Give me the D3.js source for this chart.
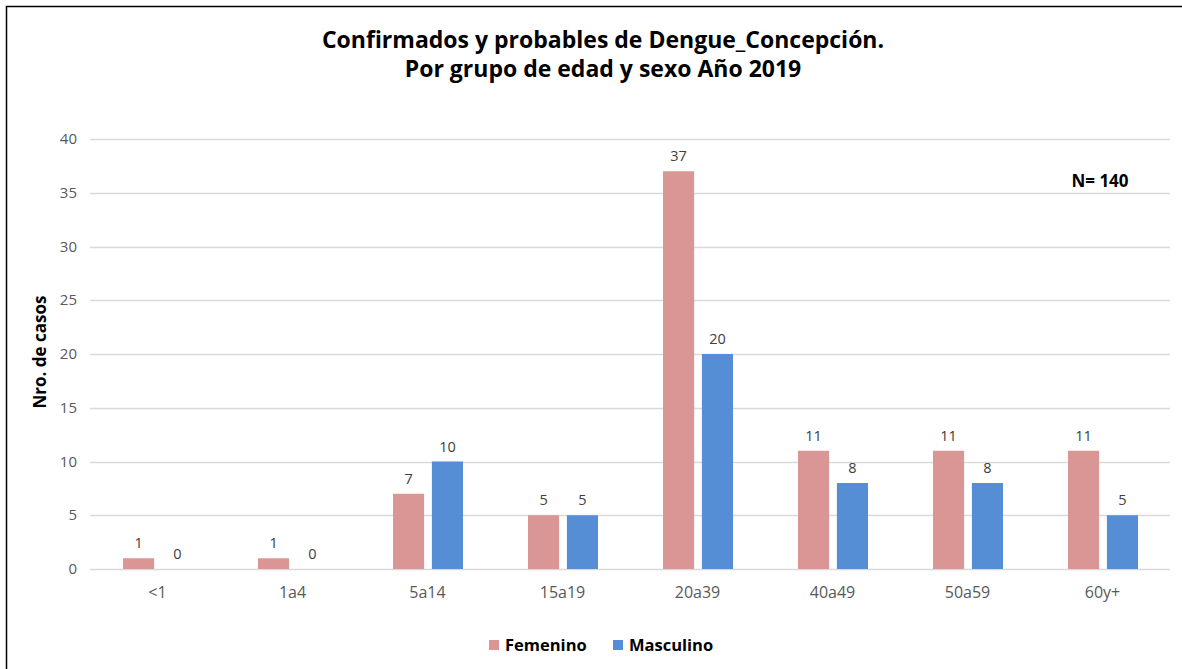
<!DOCTYPE html>
<html>
<head>
<meta charset="utf-8">
<script src="https://cdn.jsdelivr.net/npm/d3@7"></script>
<style>
  body { margin: 0; background: #fff; overflow: hidden; }
  svg { display: block; font-family: "Open Sans", "Noto Sans", sans-serif; }
</style>
</head>
<body>
<svg width="1182" height="669"></svg>
<script>
"use strict";
// data
const grupos = ["<1", "1a4", "5a14", "15a19", "20a39", "40a49", "50a59", "60y+"];
const femenino = [1, 1, 7, 5, 37, 11, 11, 11];
const masculino = [0, 0, 10, 5, 20, 8, 8, 5];
const series = ["Femenino", "Masculino"];
const yTicks = [0, 5, 10, 15, 20, 25, 30, 35, 40];

const colores = { Femenino: "#d99694", Masculino: "#558ed5" };

(function() {
  const svg = d3.select("svg");
  const width = +svg.attr("width");

  // frame (right and bottom sides fall outside the picture)
  svg.append("rect")
    .attr("x", 6.5).attr("y", 6.5)
    .attr("width", width + 20).attr("height", 700)
    .attr("fill", "none").attr("stroke", "#000").attr("stroke-width", 1.5);

  const plotLeft = 90, plotRight = 1170, plotTop = 139, plotBottom = 569;

  const x = d3.scaleBand().domain(grupos).range([plotLeft, plotRight]);
  const xs = d3.scaleBand().domain(series).range([0, 70]).paddingInner(0.2);
  const y = d3.scaleLinear().domain([0, 40]).range([plotBottom, plotTop]);

  // gridlines
  svg.append("g").selectAll("line")
    .data(yTicks).enter().append("line")
    .attr("x1", plotLeft).attr("x2", plotRight)
    .attr("y1", d => Math.round(y(d)) + 0.5).attr("y2", d => Math.round(y(d)) + 0.5)
    .attr("stroke", "#d9d9d9").attr("stroke-width", 1.5);

  // y tick labels
  svg.append("g").selectAll("text")
    .data(yTicks).enter().append("text")
    .attr("x", 77).attr("y", d => y(d) + 5)
    .attr("text-anchor", "end")
    .attr("font-size", 15).attr("fill", "#595959")
    .text(d => d);

  // x labels
  svg.append("g").selectAll("text")
    .data(grupos).enter().append("text")
    .attr("x", d => x(d) + x.bandwidth() / 2)
    .attr("y", 598)
    .attr("text-anchor", "middle")
    .attr("font-size", 16).attr("fill", "#595959")
    .text(d => d);

  const rows = grupos.map((g, i) => ({ grupo: g, Femenino: femenino[i], Masculino: masculino[i] }));

  const grp = svg.append("g").selectAll("g")
    .data(rows).enter().append("g")
    .attr("transform", d => "translate(" + (x(d.grupo) + x.bandwidth() / 2 - 34.5) + ",0)");

  grp.selectAll("rect")
    .data(d => series.map(s => ({ s: s, v: d[s] })))
    .enter().append("rect")
    .attr("x", d => xs(d.s))
    .attr("width", xs.bandwidth())
    .attr("y", d => y(d.v))
    .attr("height", d => y(0) - y(d.v))
    .attr("fill", d => colores[d.s]);

  grp.selectAll("text")
    .data(d => series.map(s => ({ s: s, v: d[s] })))
    .enter().append("text")
    .attr("x", d => xs(d.s) + xs.bandwidth() / 2)
    .attr("y", d => y(d.v) - 10)
    .attr("text-anchor", "middle")
    .attr("font-size", 14.5).attr("fill", "#404040")
    .text(d => d.v);

  // title
  const title = svg.append("text")
    .attr("text-anchor", "middle").attr("font-weight", "bold")
    .attr("font-size", 23).attr("fill", "#000");
  title.append("tspan").attr("x", 603).attr("y", 48).text("Confirmados y probables de Dengue_Concepción.");
  title.append("tspan").attr("x", 603).attr("y", 77).text("Por grupo de edad y sexo Año 2019");

  // N
  svg.append("text")
    .attr("x", 1100).attr("y", 187)
    .attr("text-anchor", "middle").attr("font-weight", "bold")
    .attr("font-size", 17).attr("fill", "#000")
    .text("N= 140");

  // y axis title
  svg.append("text")
    .attr("transform", "translate(46,352) rotate(-90)")
    .attr("text-anchor", "middle").attr("font-weight", "bold")
    .attr("font-size", 17).attr("fill", "#000")
    .text("Nro. de casos");

  // legend
  const legendX = [489, 613];
  const leg = svg.append("g").selectAll("g")
    .data(series).enter().append("g")
    .attr("transform", (d, i) => "translate(" + legendX[i] + ",640)");
  leg.append("rect").attr("width", 10).attr("height", 10).attr("fill", d => colores[d]);
  leg.append("text")
    .attr("x", 16).attr("y", 11)
    .attr("font-weight", "bold").attr("font-size", 16.5).attr("fill", "#000")
    .text(d => d);
})();
</script>
</body>
</html>
